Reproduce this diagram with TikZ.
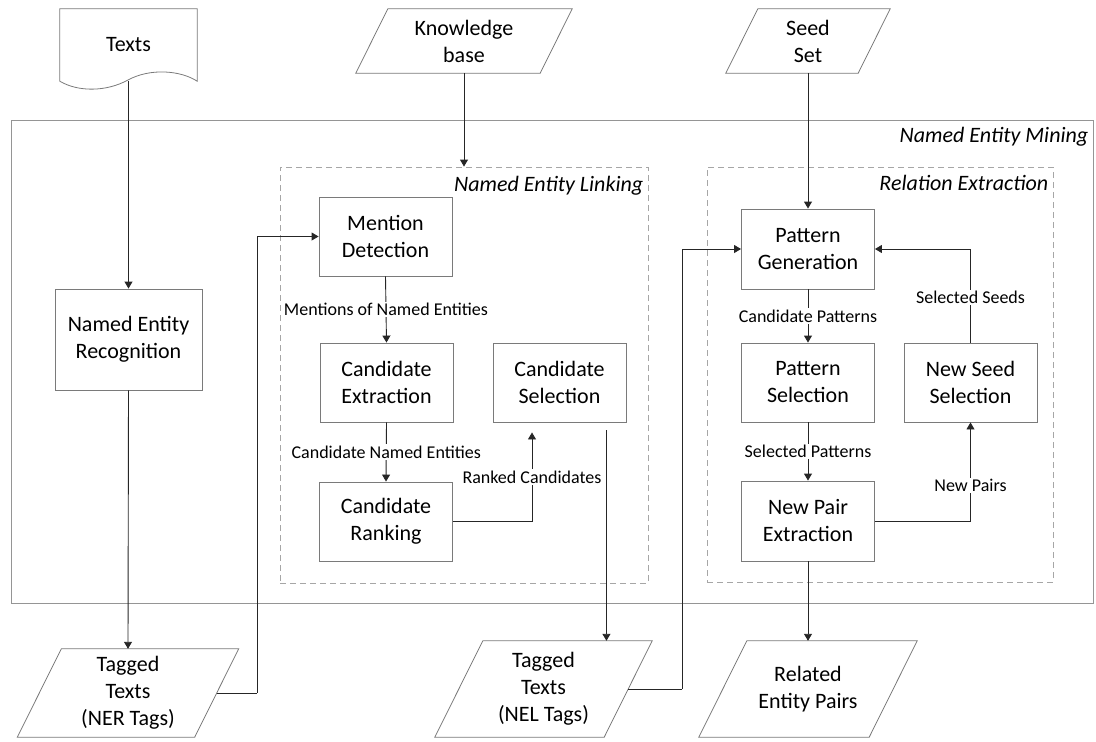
\documentclass[tikz,border=0pt]{standalone}
\usepackage{fontspec}
\setmainfont{Carlito}
\usetikzlibrary{arrows.meta,calc}

\definecolor{boxgray}{HTML}{7A7A7A}
\definecolor{dashgray}{HTML}{A6A6A6}
\definecolor{linegray}{HTML}{262626}

% parallelogram (data) outline around an invisible rectangle node
\newcommand\drawio[2]{%
  \draw[ioline] ([xshift=#2]#1.north west) -- ([xshift=#2]#1.north east)
    -- ([xshift=-#2]#1.south east) -- ([xshift=-#2]#1.south west) -- cycle;}

\begin{document}
\begin{tikzpicture}[x=1pt,y=-1pt,
  big/.style={font={\fontsize{22}{27}\selectfont}},
  proc/.style={big, draw=boxgray, line width=0.9pt, minimum width=133pt,
    minimum height=79pt, align=center, inner sep=0pt},
  iotext/.style={big, align=center, inner sep=0pt},
  ioline/.style={draw=boxgray, line width=0.8pt},
  groupbox/.style={draw=dashgray, line width=0.9pt, dash pattern=on 6pt off 4pt, inner sep=0pt},
  outerbox/.style={draw=boxgray!80, line width=0.9pt, inner sep=0pt},
  gtitle/.style={big, font={\fontsize{22}{27}\selectfont\itshape}, anchor=base east, inner sep=0pt},
  conn/.style={draw=linegray, line width=0.9pt, -{Triangle[length=7pt,width=8pt]}},
  plain/.style={draw=linegray, line width=0.9pt},
  lbl/.style={font={\fontsize{18}{22}\selectfont}, fill=white, inner sep=1.5pt},
]
\useasboundingbox (0,0) rectangle (1096,742);

% ---------- frames ----------
\node[outerbox, minimum width=1082pt, minimum height=483pt] (mining) at (552,361.5) {};
\node[gtitle] at ($(mining.north east)+(-5,23)$) {Named Entity Mining};

\node[groupbox, minimum width=368pt, minimum height=416pt] (nel) at (464,375) {};
\node[gtitle] at ($(nel.north east)+(-5,25)$) {Named Entity Linking};

\node[groupbox, minimum width=346pt, minimum height=415pt] (re) at (880,374.5) {};
\node[gtitle] at ($(re.north east)+(-5,24)$) {Relation Extraction};

% ---------- inputs ----------
\node[iotext, minimum width=137pt, minimum height=72pt] (texts) at (128.5,45) {Texts};
\draw[ioline] (texts.north west) -- (texts.north east) -- (texts.south east)
  .. controls ++(-17,-11) and (150,68) .. (128,80)
  .. controls (106,92) and (78,92) .. (texts.south west) -- cycle;

\node[iotext, minimum width=184pt, minimum height=64pt] (kb) at (464,41) {Knowledge\\base};
\drawio{kb}{16}

\node[iotext, minimum width=132pt, minimum height=64pt] (seed) at (808,41) {Seed\\Set};
\drawio{seed}{16}

% ---------- outputs ----------
\node[iotext, minimum width=177pt, minimum height=88pt] (tner) at (128,693) {Tagged\\Texts\\(NER Tags)};
\drawio{tner}{22}

\node[iotext, minimum width=169pt, minimum height=96pt] (tnel) at (543.5,689) {Tagged\\Texts\\(NEL Tags)};
\drawio{tnel}{24}

\node[iotext, minimum width=170pt, minimum height=96pt] (pairs) at (808,689) {Related\\Entity Pairs};
\drawio{pairs}{24}

% ---------- process steps ----------
\node[proc, minimum width=147pt, minimum height=101pt] (ner) at (128.5,339.5) {Named Entity\\Recognition};

\node[proc] (md) at (385.5,236.5) {Mention\\Detection};
\node[proc] (ce) at (386.5,382.5) {Candidate\\Extraction};
\node[proc] (cr) at (386,521.5) {Candidate\\Ranking};
\node[proc] (cs) at (559.5,382.5) {Candidate\\Selection};

\node[proc, minimum height=80pt] (pg) at (808,249) {Pattern\\Generation};
\node[proc] (ps) at (808,382.5) {Pattern\\Selection};
\node[proc, minimum height=80pt] (npe) at (808,521) {New Pair\\Extraction};
\node[proc] (nss) at (970.5,382.5) {New Seed\\Selection};

% ---------- connectors ----------
\draw[conn] (texts.south) -- (ner.north);
\draw[conn] (ner.south) -- (tner.north);
\draw[conn] (kb.south) -- (nel.north);
\draw[conn] (seed.south) -- (pg.north);

\coordinate (nerjog) at (257,693);
\draw[plain] (tner.east) -- (nerjog);
\draw[conn] (nerjog) |- (md.west);

\draw[conn] (md.south) -- node[lbl]{Mentions of Named Entities} (ce.north);
\draw[conn] (ce.south) -- node[lbl]{Candidate Named Entities} (cr.north);

\coordinate (rankin) at ($(cs.south)+(-27.5,10)$);
\draw[conn] (cr.east) -| node[lbl, pos=0.75]{Ranked Candidates} (rankin);

\coordinate (csout) at ($(cs.south east)+(-20,8)$);
\draw[conn] (csout) -- (csout |- tnel.north);

\coordinate (neljog) at (682,689);
\draw[plain] (tnel.east) -- (neljog);
\draw[conn] (neljog) |- (pg.west);

\draw[conn] (pg.south) -- node[lbl]{Candidate Patterns} (ps.north);
\draw[conn] (ps.south) -- node[lbl]{Selected Patterns} (npe.north);
\draw[conn] (npe.east) -| node[lbl, pos=0.68]{New Pairs} (nss.south);
\draw[conn] (nss.north) |- node[lbl, pos=0.24]{Selected Seeds} (pg.east);
\draw[conn] (npe.south) -- (pairs.north);

\end{tikzpicture}
\end{document}
